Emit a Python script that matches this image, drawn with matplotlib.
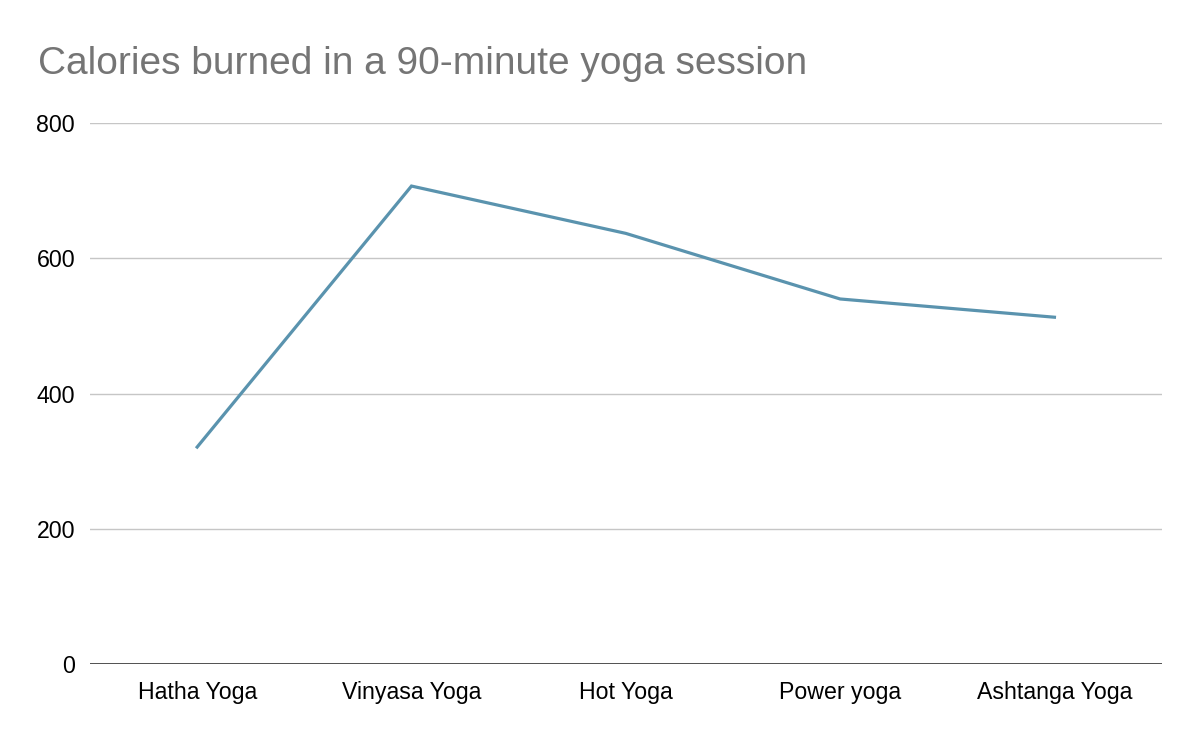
import matplotlib
matplotlib.use("Agg")
import matplotlib.pyplot as plt

categories = ["Hatha Yoga", "Vinyasa Yoga", "Hot Yoga", "Power yoga", "Ashtanga Yoga"]
calories = [321, 707, 637, 540, 513]
yticks = [0, 200, 400, 600, 800]
title = "Calories burned in a 90-minute yoga session"

plt.rcParams['font.family'] = ['Liberation Sans', 'DejaVu Sans']

fig = plt.figure(figsize=(12, 7.42), dpi=100)
ax = fig.add_axes([0.075, 0.105, 0.893, 0.729])

x = list(range(len(categories)))
ax.plot(x, calories, color="#5A93AE", linewidth=2.3, solid_joinstyle="miter")

ax.set_xlim(-0.5, len(categories) - 0.5)
ax.set_ylim(0, 800)
ax.set_yticks(yticks)
ax.set_yticklabels([str(v) for v in yticks])
ax.set_xticks(x)
ax.set_xticklabels(categories)

for v in yticks[1:]:
    ax.axhline(v, color="#c6c6c6", linewidth=1.0, zorder=0)
ax.axhline(0, color="#333333", linewidth=1.2, zorder=3)

for s in ax.spines.values():
    s.set_visible(False)
ax.tick_params(axis="both", length=0, labelsize=16.7, colors="#000000")
ax.tick_params(axis="y", pad=10.8)
ax.tick_params(axis="x", pad=12.5)

fig.text(38 / 1200, 1 - 64 / 742, title, fontsize=28, color="#757575",
         ha="left", va="center")

fig.savefig("out.png", dpi=100, facecolor="white")
